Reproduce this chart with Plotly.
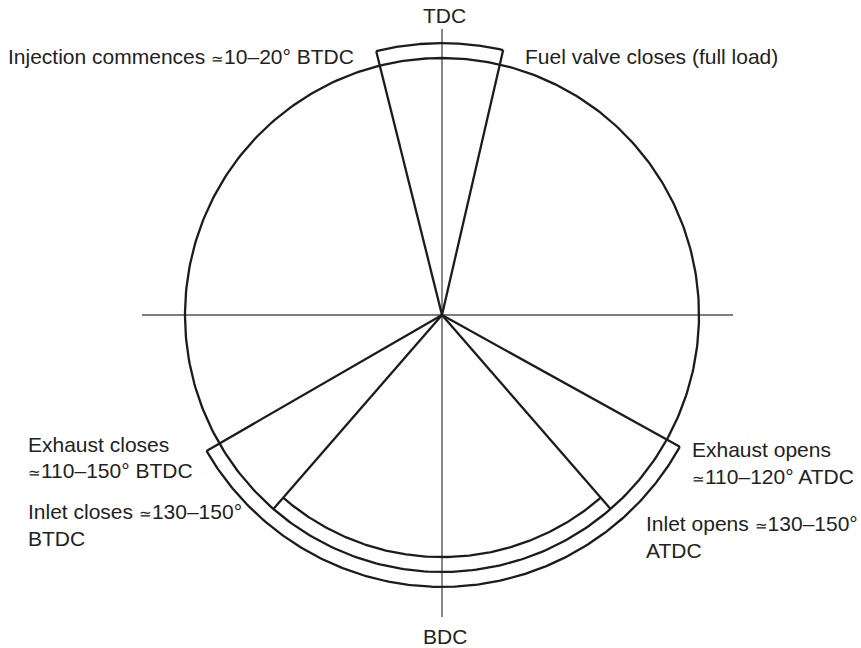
import numpy as np
import plotly.graph_objects as go

# valve / injection timing, degrees of crank angle measured clockwise from TDC
fuel_angles = [-14, 13]        # injection commences .. fuel valve closes
exhaust_angles = [119, 240]    # exhaust opens .. exhaust closes
inlet_angles = [139, 221]      # inlet opens .. inlet closes

dead_centres = ["TDC", "BDC"]
SIM = "<span style='font-size:15px'>≃</span>"
timing_labels = [
    ["Injection commences " + SIM + "10–20° BTDC"],
    ["Fuel valve closes (full load)"],
    ["Exhaust closes", SIM + "110–150° BTDC"],
    ["Inlet closes " + SIM + "130–150°", "BTDC"],
    ["Exhaust opens", SIM + "110–120° ATDC"],
    ["Inlet opens " + SIM + "130–150°", "ATDC"],
]

R = 1.0          # crank circle
BAND = 0.058     # width of the timing bands
PX = 257.0       # pixels per unit
CX, CY = 442.0, 315.0
W, H = 861, 648

INK = "#1c1c1c"
AXIS = "#555555"


def pt(r, deg):
    t = np.radians(deg)
    return r * np.sin(t), r * np.cos(t)


def arc(r, a0, a1, n=200):
    t = np.linspace(a0, a1, n)
    return pt(r, t)


def line_trace(x, y, color=INK, width=2.3):
    return go.Scatter(x=x, y=y, mode="lines", line=dict(color=color, width=width),
                      hoverinfo="skip", showlegend=False)


fig = go.Figure()

# centre lines
fig.add_trace(line_trace([-300 / PX, 291 / PX], [0, 0], AXIS, 1.4))
fig.add_trace(line_trace([0, 0], [286 / PX, -302 / PX], AXIS, 1.4))

# crank circle
cx, cy = arc(R, 0, 360, 400)
fig.add_trace(line_trace(cx, cy))

# fuel and exhaust bands sit outside the circle
for a0, a1 in (fuel_angles, exhaust_angles):
    ax_, ay_ = arc(R + BAND, a0, a1)
    fig.add_trace(line_trace(ax_, ay_))
    for a in (a0, a1):
        ex, ey = pt(R + BAND, a)
        fig.add_trace(line_trace([0, ex], [0, ey]))

# inlet band sits inside the circle
ix, iy = arc(R - BAND, inlet_angles[0], inlet_angles[1])
fig.add_trace(line_trace(ix, iy))
for a in inlet_angles:
    ex, ey = pt(R, a)
    fig.add_trace(line_trace([0, ex], [0, ey]))


def to_x(px):
    return (px - CX) / PX


def to_y(py):
    return (CY - py) / PX


font = dict(family="Liberation Sans, Arial, sans-serif", size=21, color="#222222")

# dead centre labels
for txt, (px, py) in zip(dead_centres, [(444, 15), (445, 636)]):
    fig.add_annotation(x=to_x(px), y=to_y(py), text=txt, showarrow=False,
                       xanchor="center", yanchor="middle", font=font)

# left x and the y of each line of each label
label_pos = [
    (6, [56]),
    (523, [56]),
    (26, [444, 470]),
    (26, [511, 538]),
    (690, [449, 476]),
    (644, [523, 550]),
]
for lines, (px, ys) in zip(timing_labels, label_pos):
    for txt, py in zip(lines, ys):
        fig.add_annotation(x=to_x(px), y=to_y(py), text=txt, showarrow=False,
                           xanchor="left", yanchor="middle", align="left", font=font)

fig.update_xaxes(range=[to_x(0), to_x(W)], visible=False, fixedrange=True)
fig.update_yaxes(range=[to_y(H), to_y(0)], visible=False, fixedrange=True)
fig.update_layout(width=W, height=H, margin=dict(l=0, r=0, t=0, b=0),
                  plot_bgcolor="white", paper_bgcolor="white")

fig.write_html("out.html", config={"displayModeBar": False},
               post_script="document.body.style.margin='0px';")
